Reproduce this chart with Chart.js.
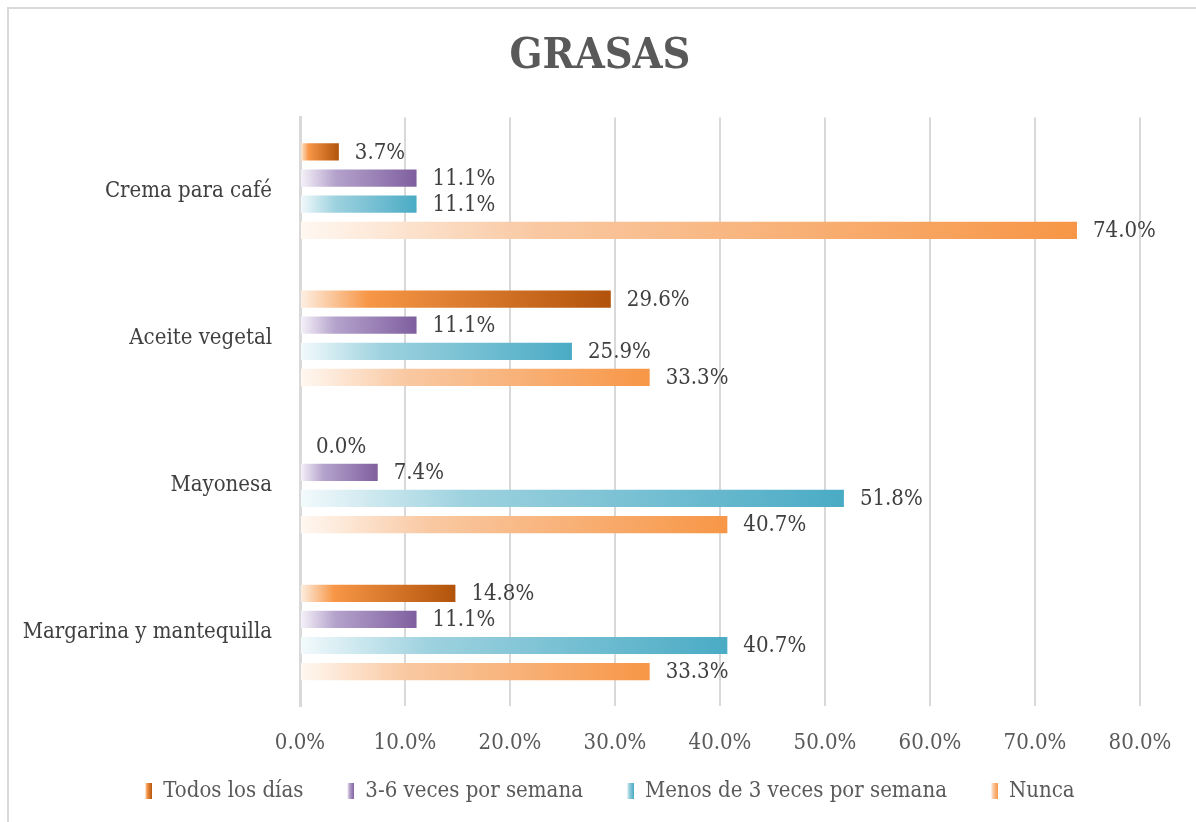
<!DOCTYPE html>
<html>
<head>
<meta charset="utf-8">
<script src="https://cdn.jsdelivr.net/npm/chart.js@4.4.0/dist/chart.umd.min.js"></script>
<style>
  html, body { margin: 0; padding: 0; background: #fff; overflow: hidden; }
  #wrap { position: relative; width: 1196px; height: 822px; overflow: hidden; }
  #frame { position: absolute; left: 7px; top: 7px; width: 1250px; height: 880px;
           border-top: 2px solid #d9d9d9; border-left: 2px solid #d9d9d9; }
  canvas { position: absolute; left: 0; top: 0; }
</style>
</head>
<body>
<div id="wrap">
  <div id="frame"></div>
  <canvas id="myChart" width="1196" height="822"></canvas>
</div>
<script>
const categories = ['Crema para café', 'Aceite vegetal', 'Mayonesa', 'Margarina y mantequilla'];
const seriesNames = ['Todos los días', '3-6 veces por semana', 'Menos de 3 veces por semana', 'Nunca'];

const todosLosDias = [3.7, 29.6, 0.0, 14.8];
const tresASeis = [11.1, 11.1, 7.4, 11.1];
const menosDeTres = [11.1, 25.9, 51.8, 40.7];
const nunca = [74.0, 33.3, 40.7, 33.3];

const xTicks = [0, 10, 20, 30, 40, 50, 60, 70, 80];

// gradient stops per series (left -> right of each bar)
const stops = [
    [[0, '#fdf0e4'], [0.22, '#f79646'], [1, '#b2530b']],
    [[0, '#f6f3f9'], [0.3, '#b5a3cc'], [1, '#7f5f9f']],
    [[0, '#f3fafc'], [0.3, '#9ed2df'], [1, '#4aabc5']],
    [[0, '#fff8f2'], [0.3, '#f9c9a3'], [1, '#f79646']]
];

const fontFamily = '"DejaVu Serif Condensed", "DejaVu Serif", serif';

function barGradient(context) {
    const chart = context.chart;
    const area = chart.chartArea;
    const s = stops[context.datasetIndex];
    if (!area || context.type !== 'data') return s[s.length - 1][1];
    const xs = chart.scales.x;
    const x0 = xs.getPixelForValue(0);
    const x1 = xs.getPixelForValue(context.raw);
    if (x1 - x0 < 1) return s[s.length - 1][1];
    const g = chart.ctx.createLinearGradient(x0, 0, x1, 0);
    s.forEach(st => g.addColorStop(st[0], st[1]));
    return g;
}

// legend marker: transparent lead-in, then the small gradient box
const markerW = 27;
function legendBox(i) {
    const c = document.createElement('canvas');
    c.width = markerW;
    c.height = 16;
    const cx = c.getContext('2d');
    const g = cx.createLinearGradient(markerW - 7, 0, markerW, 0);
    stops[i].forEach(st => g.addColorStop(st[0], st[1]));
    cx.fillStyle = g;
    cx.fillRect(markerW - 7, 0, 7, 16);
    return c;
}

const valueLabels = {
    id: 'valueLabels',
    afterDatasetsDraw(chart) {
        const ctx = chart.ctx;
        ctx.save();
        ctx.font = '22px ' + fontFamily;
        ctx.fillStyle = '#404040';
        ctx.textAlign = 'left';
        ctx.textBaseline = 'middle';
        chart.data.datasets.forEach((ds, i) => {
            chart.getDatasetMeta(i).data.forEach((bar, j) => {
                ctx.fillText(ds.data[j].toFixed(1) + '%', bar.x + 16, bar.y + 1);
            });
        });
        ctx.restore();
    }
};

const allSeries = [todosLosDias, tresASeis, menosDeTres, nunca];

const datasets = seriesNames.map((name, index) => ({
    label: name,
    data: allSeries[index],
    backgroundColor: barGradient,
    borderWidth: 0,
    categoryPercentage: 0.71,
    barPercentage: 0.66
}));

const ctx = document.getElementById('myChart').getContext('2d');
const myChart = new Chart(ctx, {
    type: 'bar',
    data: {
        labels: categories,
        datasets: datasets
    },
    options: {
        indexAxis: 'y',
        responsive: false,
        animation: false,
        layout: { padding: { left: 12, right: 8, top: 0, bottom: 10 } },
        scales: {
            x: {
                min: 0,
                max: 80,
                afterBuildTicks: axis => { axis.ticks = xTicks.map(v => ({ value: v })); },
                afterFit: axis => { axis.height = 50; },
                grid: { color: '#d9d9d9', lineWidth: 2, drawTicks: false },
                border: { display: false },
                ticks: {
                    padding: 24,
                    color: '#595959',
                    font: { family: fontFamily, size: 22 },
                    callback: v => v.toFixed(1) + '%'
                }
            },
            y: {
                afterFit: axis => { axis.width = 288; },
                grid: { display: false },
                border: { color: '#d9d9d9', width: 3 },
                ticks: {
                    padding: 20,
                    color: '#404040',
                    font: { family: fontFamily, size: 22 }
                }
            },
            // empty spacer on the right so the plot ends where the reference does
            yRight: {
                type: 'category',
                position: 'right',
                grid: { display: false },
                border: { display: false },
                ticks: { display: false },
                afterFit: axis => { axis.width = 48; }
            }
        },
        plugins: {
            title: {
                display: true,
                text: 'GRASAS',
                color: '#595959',
                font: { family: fontFamily, size: 43, weight: 'bold' },
                padding: { top: 31, bottom: 35 }
            },
            legend: {
                display: true,
                position: 'bottom',
                labels: {
                    usePointStyle: true,
                    boxWidth: markerW,
                    pointStyleWidth: markerW,
                    boxHeight: 16,
                    padding: 24,
                    color: '#595959',
                    font: { family: fontFamily, size: 22 },
                    generateLabels: chart => chart.data.datasets.map((ds, i) => ({
                        text: ds.label,
                        pointStyle: legendBox(i),
                        fontColor: '#595959',
                        lineWidth: 0,
                        datasetIndex: i
                    }))
                }
            },
            tooltip: { enabled: false }
        }
    },
    plugins: [valueLabels]
});
</script>
</body>
</html>
